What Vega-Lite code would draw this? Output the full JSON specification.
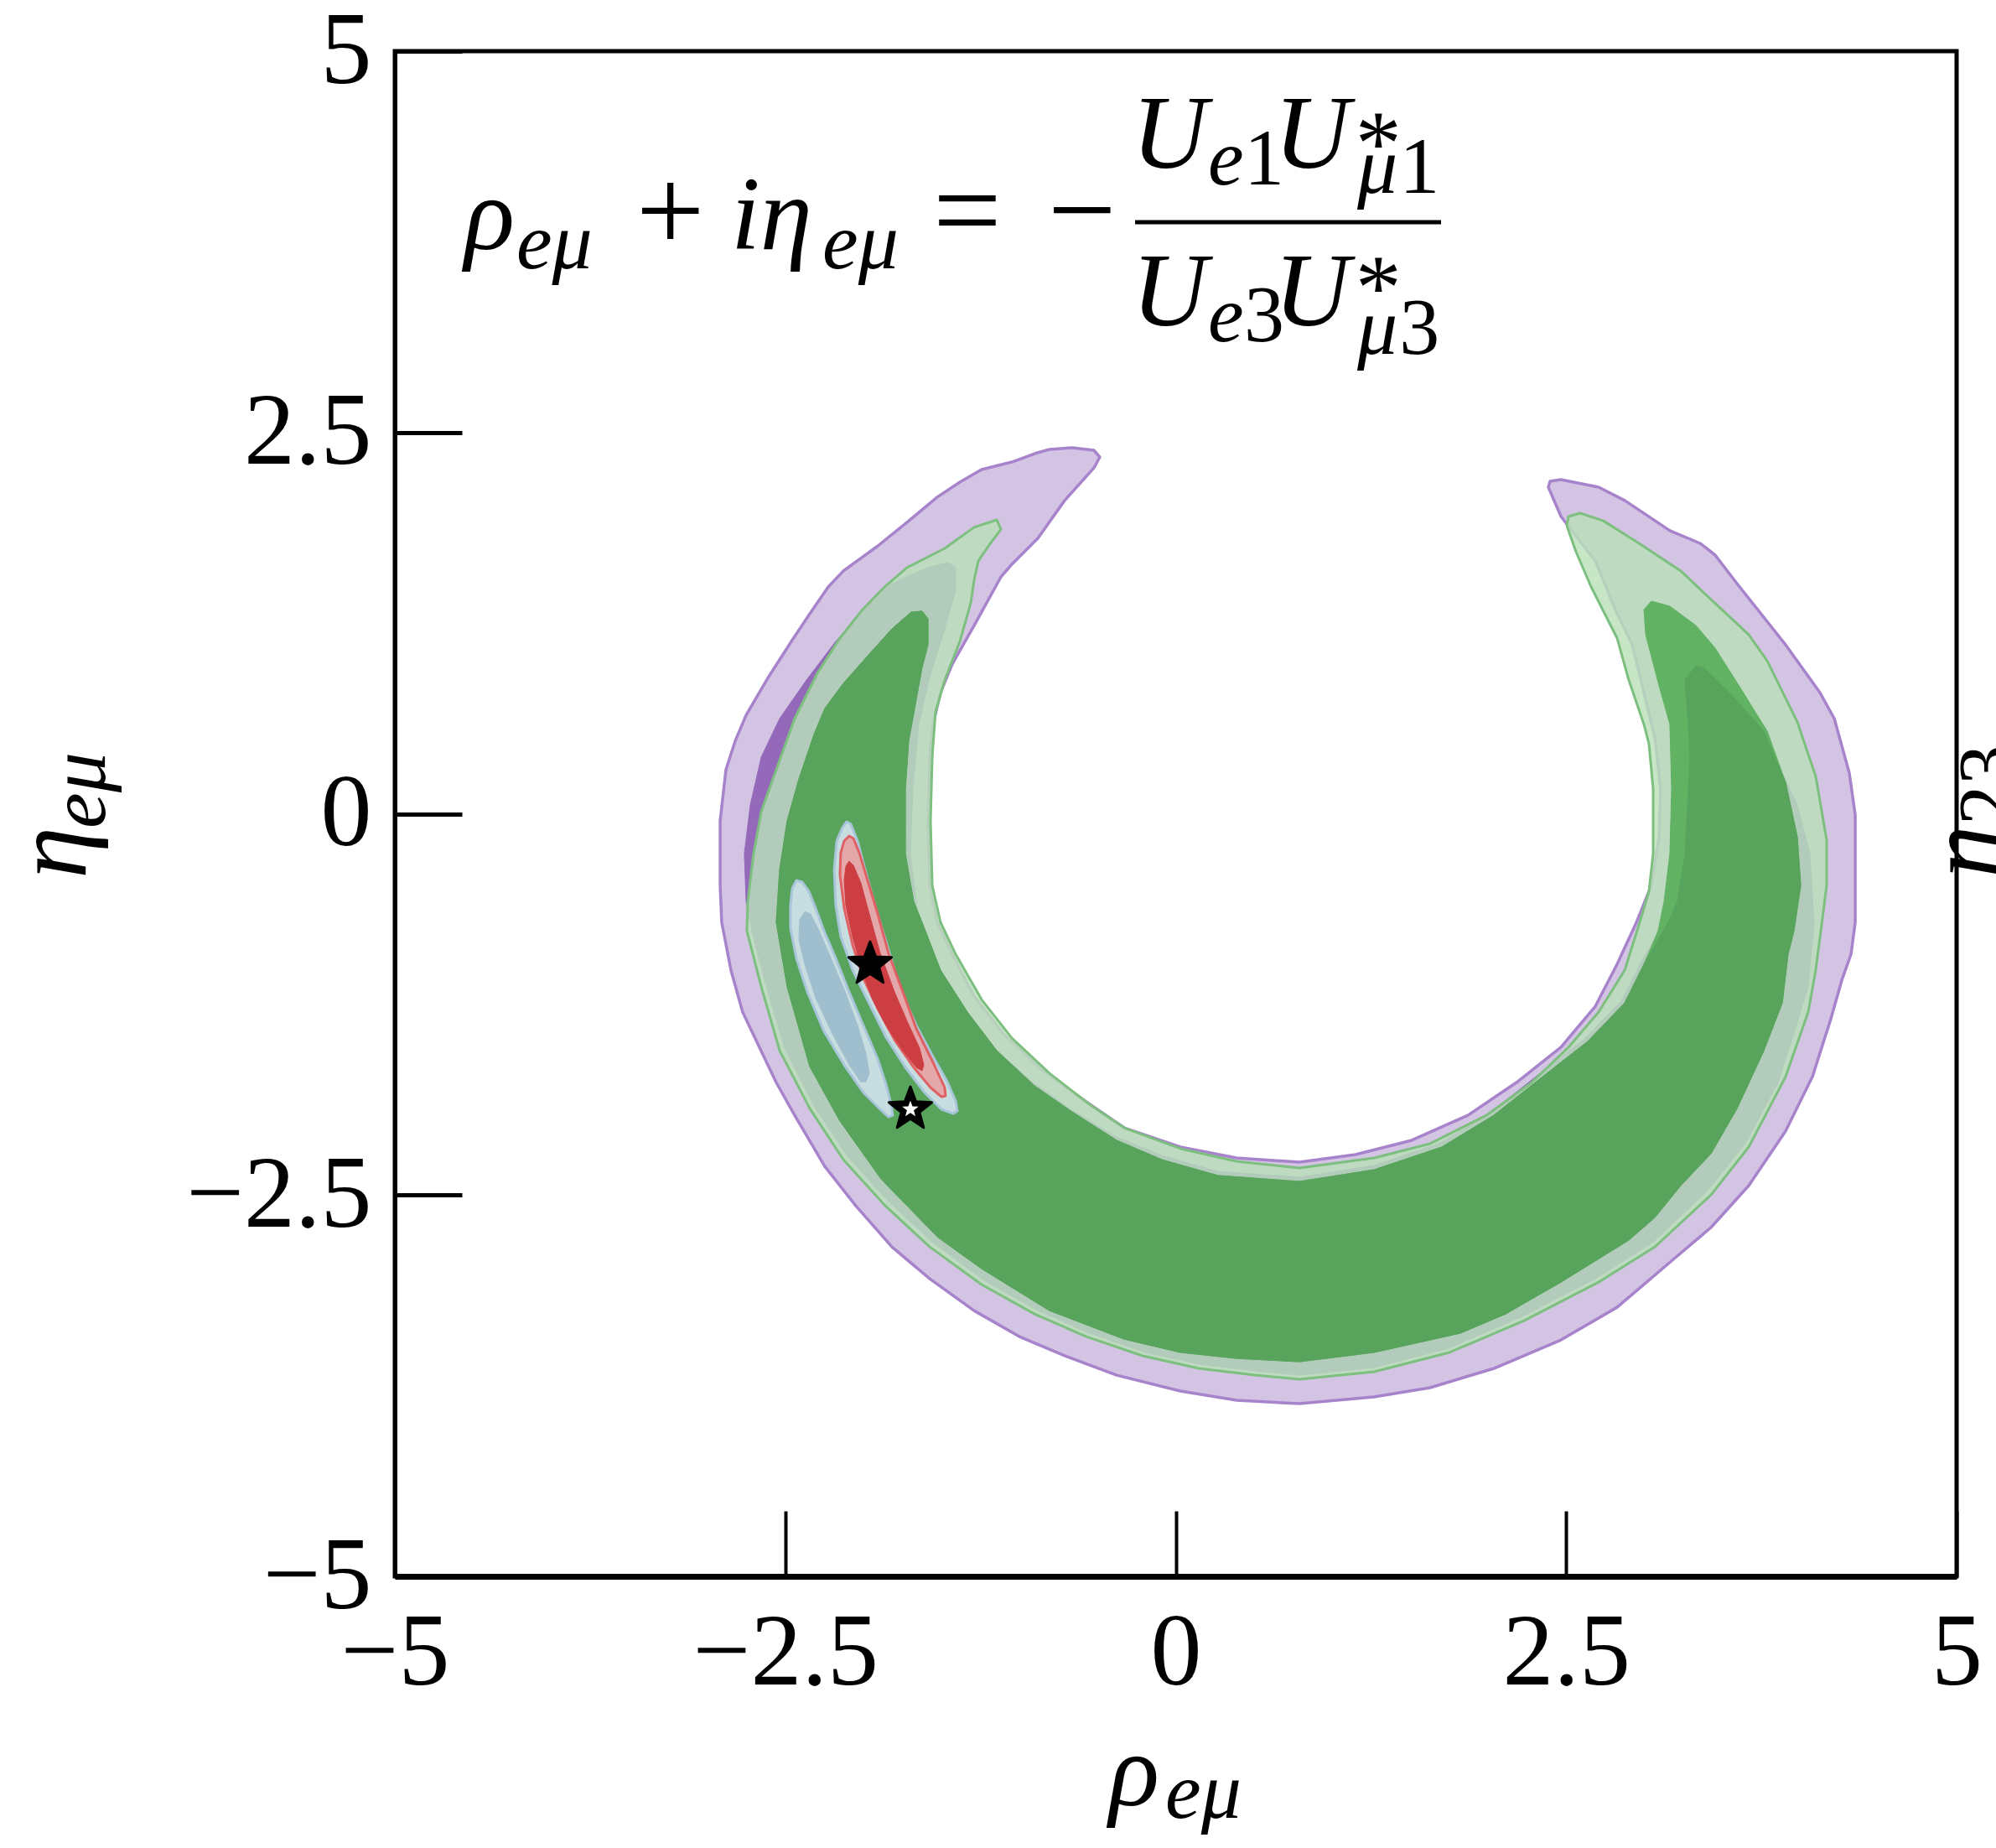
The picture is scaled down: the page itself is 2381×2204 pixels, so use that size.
{
"$schema": "https://vega.github.io/schema/vega-lite/v6.json",
"width": 1863, "height": 1819,
"autosize": "none",
"padding": {"left": 471, "top": 61, "right": 47, "bottom": 324},
"background": "white",
"config": {"view": {"stroke": "black", "strokeWidth": 5}},
"datasets": {
"P2": [{"x":-0.663,"y":2.400},{"x":-0.523,"y":2.383},{"x":-0.486,"y":2.339},{"x":-0.523,"y":2.268},{"x":-0.711,"y":2.054},{"x":-0.883,"y":1.806},{"x":-1.049,"y":1.636},{"x":-1.119,"y":1.553},{"x":-1.291,"y":1.234},{"x":-1.431,"y":0.981},{"x":-1.506,"y":0.794},{"x":-1.554,"y":0.586},{"x":-1.575,"y":0.371},{"x":-1.586,"y":-0.047},{"x":-1.575,"y":-0.470},{"x":-1.527,"y":-0.712},{"x":-1.431,"y":-0.921},{"x":-1.291,"y":-1.196},{"x":-1.098,"y":-1.449},{"x":-0.856,"y":-1.680},{"x":-0.572,"y":-1.889},{"x":-0.330,"y":-2.059},{"x":0.030,"y":-2.185},{"x":0.389,"y":-2.257},{"x":0.792,"y":-2.284},{"x":1.151,"y":-2.235},{"x":1.511,"y":-2.141},{"x":1.871,"y":-1.977},{"x":2.182,"y":-1.762},{"x":2.467,"y":-1.531},{"x":2.687,"y":-1.262},{"x":2.826,"y":-0.987},{"x":2.950,"y":-0.712},{"x":3.046,"y":-0.470},{"x":3.095,"y":-0.151},{"x":3.105,"y":0.162},{"x":3.068,"y":0.498},{"x":2.998,"y":0.794},{"x":2.923,"y":1.108},{"x":2.805,"y":1.361},{"x":2.687,"y":1.658},{"x":2.590,"y":1.784},{"x":2.467,"y":1.949},{"x":2.386,"y":2.141},{"x":2.397,"y":2.180},{"x":2.467,"y":2.191},{"x":2.708,"y":2.141},{"x":2.875,"y":2.054},{"x":3.164,"y":1.856},{"x":3.358,"y":1.773},{"x":3.454,"y":1.696},{"x":3.594,"y":1.509},{"x":3.905,"y":1.108},{"x":4.125,"y":0.794},{"x":4.217,"y":0.624},{"x":4.313,"y":0.267},{"x":4.351,"y":-0.008},{"x":4.351,"y":-0.712},{"x":4.324,"y":-0.921},{"x":4.265,"y":-1.091},{"x":4.195,"y":-1.344},{"x":4.077,"y":-1.724},{"x":3.905,"y":-2.081},{"x":3.669,"y":-2.438},{"x":3.427,"y":-2.713},{"x":3.186,"y":-2.922},{"x":2.826,"y":-3.236},{"x":2.467,"y":-3.450},{"x":2.037,"y":-3.637},{"x":1.629,"y":-3.763},{"x":1.270,"y":-3.824},{"x":0.792,"y":-3.868},{"x":0.389,"y":-3.846},{"x":0.030,"y":-3.785},{"x":-0.378,"y":-3.681},{"x":-0.711,"y":-3.554},{"x":-1.001,"y":-3.428},{"x":-1.291,"y":-3.258},{"x":-1.575,"y":-3.049},{"x":-1.817,"y":-2.840},{"x":-2.053,"y":-2.565},{"x":-2.247,"y":-2.312},{"x":-2.440,"y":-1.977},{"x":-2.558,"y":-1.762},{"x":-2.676,"y":-1.509},{"x":-2.773,"y":-1.300},{"x":-2.848,"y":-1.025},{"x":-2.907,"y":-0.712},{"x":-2.917,"y":-0.470},{"x":-2.917,"y":-0.047},{"x":-2.880,"y":0.289},{"x":-2.821,"y":0.476},{"x":-2.751,"y":0.646},{"x":-2.606,"y":0.899},{"x":-2.461,"y":1.130},{"x":-2.343,"y":1.311},{"x":-2.225,"y":1.487},{"x":-2.128,"y":1.592},{"x":-1.914,"y":1.751},{"x":-1.720,"y":1.911},{"x":-1.527,"y":2.076},{"x":-1.382,"y":2.174},{"x":-1.243,"y":2.257},{"x":-1.049,"y":2.306},{"x":-0.904,"y":2.361},{"x":-0.808,"y":2.389}],
"P1": [{"x":-1.457,"y":1.647},{"x":-1.409,"y":1.614},{"x":-1.409,"y":1.465},{"x":-1.479,"y":1.212},{"x":-1.575,"y":0.899},{"x":-1.645,"y":0.586},{"x":-1.683,"y":0.162},{"x":-1.699,"y":-0.261},{"x":-1.645,"y":-0.712},{"x":-1.527,"y":-1.014},{"x":-1.355,"y":-1.284},{"x":-1.168,"y":-1.531},{"x":-0.921,"y":-1.757},{"x":-0.679,"y":-1.933},{"x":-0.389,"y":-2.114},{"x":-0.089,"y":-2.240},{"x":0.271,"y":-2.345},{"x":0.792,"y":-2.383},{"x":1.270,"y":-2.306},{"x":1.694,"y":-2.158},{"x":2.021,"y":-1.955},{"x":2.327,"y":-1.707},{"x":2.617,"y":-1.476},{"x":2.853,"y":-1.229},{"x":2.977,"y":-0.976},{"x":3.073,"y":-0.811},{"x":3.181,"y":-0.684},{"x":3.213,"y":-0.575},{"x":3.261,"y":-0.261},{"x":3.283,"y":0.162},{"x":3.293,"y":0.371},{"x":3.283,"y":0.586},{"x":3.261,"y":0.877},{"x":3.331,"y":0.970},{"x":3.379,"y":0.959},{"x":3.545,"y":0.794},{"x":3.766,"y":0.542},{"x":3.884,"y":0.267},{"x":3.980,"y":0.058},{"x":4.061,"y":-0.261},{"x":4.088,"y":-0.712},{"x":4.050,"y":-1.135},{"x":3.969,"y":-1.405},{"x":3.857,"y":-1.762},{"x":3.647,"y":-2.163},{"x":3.406,"y":-2.471},{"x":3.052,"y":-2.812},{"x":2.697,"y":-3.043},{"x":2.220,"y":-3.296},{"x":1.747,"y":-3.505},{"x":1.270,"y":-3.631},{"x":0.792,"y":-3.681},{"x":0.507,"y":-3.653},{"x":0.148,"y":-3.609},{"x":-0.212,"y":-3.527},{"x":-0.566,"y":-3.400},{"x":-0.894,"y":-3.252},{"x":-1.227,"y":-3.060},{"x":-1.554,"y":-2.812},{"x":-1.839,"y":-2.543},{"x":-2.102,"y":-2.246},{"x":-2.316,"y":-1.916},{"x":-2.504,"y":-1.537},{"x":-2.622,"y":-1.130},{"x":-2.708,"y":-0.794},{"x":-2.751,"y":-0.575},{"x":-2.762,"y":-0.261},{"x":-2.724,"y":0.058},{"x":-2.654,"y":0.371},{"x":-2.536,"y":0.624},{"x":-2.364,"y":0.877},{"x":-2.177,"y":1.130},{"x":-2.080,"y":1.240},{"x":-1.946,"y":1.405},{"x":-1.839,"y":1.498},{"x":-1.704,"y":1.564},{"x":-1.570,"y":1.619}],
"G2": [{"x":-1.146,"y":1.927},{"x":-1.291,"y":1.878},{"x":-1.479,"y":1.740},{"x":-1.720,"y":1.614},{"x":-1.865,"y":1.487},{"x":-2.005,"y":1.339},{"x":-2.150,"y":1.152},{"x":-2.295,"y":0.921},{"x":-2.440,"y":0.624},{"x":-2.558,"y":0.289},{"x":-2.654,"y":0.014},{"x":-2.703,"y":-0.261},{"x":-2.740,"y":-0.575},{"x":-2.746,"y":-0.767},{"x":-2.654,"y":-1.135},{"x":-2.536,"y":-1.553},{"x":-2.343,"y":-1.933},{"x":-2.128,"y":-2.268},{"x":-1.865,"y":-2.565},{"x":-1.575,"y":-2.840},{"x":-1.243,"y":-3.087},{"x":-0.904,"y":-3.280},{"x":-0.572,"y":-3.428},{"x":-0.212,"y":-3.554},{"x":0.148,"y":-3.637},{"x":0.507,"y":-3.681},{"x":0.792,"y":-3.708},{"x":1.270,"y":-3.659},{"x":1.753,"y":-3.532},{"x":2.230,"y":-3.324},{"x":2.708,"y":-3.071},{"x":3.068,"y":-2.840},{"x":3.427,"y":-2.499},{"x":3.669,"y":-2.185},{"x":3.905,"y":-1.724},{"x":4.050,"y":-1.300},{"x":4.098,"y":-1.025},{"x":4.131,"y":-0.767},{"x":4.168,"y":-0.470},{"x":4.168,"y":-0.173},{"x":4.098,"y":0.245},{"x":3.980,"y":0.602},{"x":3.787,"y":1.003},{"x":3.669,"y":1.174},{"x":3.427,"y":1.405},{"x":3.234,"y":1.592},{"x":2.950,"y":1.784},{"x":2.735,"y":1.922},{"x":2.590,"y":1.971},{"x":2.515,"y":1.949},{"x":2.504,"y":1.889},{"x":2.563,"y":1.718},{"x":2.660,"y":1.487},{"x":2.826,"y":1.152},{"x":2.901,"y":0.877},{"x":2.998,"y":0.586},{"x":3.030,"y":0.459},{"x":3.057,"y":0.162},{"x":3.057,"y":-0.261},{"x":3.030,"y":-0.509},{"x":2.971,"y":-0.712},{"x":2.875,"y":-1.025},{"x":2.708,"y":-1.300},{"x":2.515,"y":-1.531},{"x":2.279,"y":-1.762},{"x":1.989,"y":-1.977},{"x":1.629,"y":-2.163},{"x":1.270,"y":-2.257},{"x":0.792,"y":-2.323},{"x":0.389,"y":-2.279},{"x":0.030,"y":-2.196},{"x":-0.330,"y":-2.059},{"x":-0.545,"y":-1.911},{"x":-0.808,"y":-1.702},{"x":-1.049,"y":-1.471},{"x":-1.243,"y":-1.218},{"x":-1.409,"y":-0.921},{"x":-1.506,"y":-0.712},{"x":-1.559,"y":-0.470},{"x":-1.570,"y":-0.047},{"x":-1.559,"y":0.371},{"x":-1.538,"y":0.668},{"x":-1.479,"y":0.877},{"x":-1.382,"y":1.130},{"x":-1.312,"y":1.383},{"x":-1.291,"y":1.531},{"x":-1.264,"y":1.658},{"x":-1.194,"y":1.762},{"x":-1.119,"y":1.866}],
"G1": [{"x":-1.624,"y":1.328},{"x":-1.694,"y":1.322},{"x":-1.817,"y":1.212},{"x":-1.962,"y":1.047},{"x":-2.128,"y":0.855},{"x":-2.247,"y":0.690},{"x":-2.316,"y":0.520},{"x":-2.413,"y":0.228},{"x":-2.488,"y":-0.047},{"x":-2.536,"y":-0.366},{"x":-2.558,"y":-0.712},{"x":-2.488,"y":-1.135},{"x":-2.343,"y":-1.658},{"x":-2.150,"y":-2.015},{"x":-1.887,"y":-2.394},{"x":-1.527,"y":-2.774},{"x":-1.243,"y":-2.983},{"x":-0.808,"y":-3.258},{"x":-0.330,"y":-3.445},{"x":0.030,"y":-3.532},{"x":0.389,"y":-3.571},{"x":0.792,"y":-3.593},{"x":1.270,"y":-3.532},{"x":1.822,"y":-3.406},{"x":2.112,"y":-3.280},{"x":2.467,"y":-3.071},{"x":2.901,"y":-2.796},{"x":3.068,"y":-2.647},{"x":3.234,"y":-2.438},{"x":3.427,"y":-2.229},{"x":3.594,"y":-1.933},{"x":3.766,"y":-1.553},{"x":3.884,"y":-1.240},{"x":3.921,"y":-0.921},{"x":3.959,"y":-0.767},{"x":4.002,"y":-0.470},{"x":3.980,"y":-0.151},{"x":3.905,"y":0.206},{"x":3.787,"y":0.542},{"x":3.621,"y":0.816},{"x":3.454,"y":1.086},{"x":3.331,"y":1.234},{"x":3.164,"y":1.361},{"x":3.046,"y":1.394},{"x":2.998,"y":1.339},{"x":3.009,"y":1.174},{"x":3.095,"y":0.838},{"x":3.164,"y":0.586},{"x":3.175,"y":0.162},{"x":3.164,"y":-0.261},{"x":3.127,"y":-0.575},{"x":3.089,"y":-0.767},{"x":2.998,"y":-0.987},{"x":2.875,"y":-1.240},{"x":2.638,"y":-1.493},{"x":2.349,"y":-1.724},{"x":2.037,"y":-1.977},{"x":1.704,"y":-2.185},{"x":1.270,"y":-2.334},{"x":0.792,"y":-2.411},{"x":0.271,"y":-2.372},{"x":-0.089,"y":-2.268},{"x":-0.378,"y":-2.141},{"x":-0.663,"y":-1.955},{"x":-0.904,"y":-1.784},{"x":-1.146,"y":-1.553},{"x":-1.334,"y":-1.300},{"x":-1.506,"y":-1.025},{"x":-1.624,"y":-0.712},{"x":-1.678,"y":-0.575},{"x":-1.731,"y":-0.261},{"x":-1.731,"y":0.162},{"x":-1.710,"y":0.476},{"x":-1.672,"y":0.690},{"x":-1.624,"y":0.959},{"x":-1.586,"y":1.108},{"x":-1.586,"y":1.278}],
"DG": [{"x":-1.624,"y":1.328},{"x":-1.694,"y":1.322},{"x":-1.817,"y":1.212},{"x":-1.962,"y":1.047},{"x":-2.128,"y":0.855},{"x":-2.247,"y":0.690},{"x":-2.316,"y":0.520},{"x":-2.413,"y":0.228},{"x":-2.488,"y":-0.047},{"x":-2.536,"y":-0.366},{"x":-2.558,"y":-0.712},{"x":-2.488,"y":-1.135},{"x":-2.343,"y":-1.658},{"x":-2.150,"y":-2.015},{"x":-1.887,"y":-2.394},{"x":-1.527,"y":-2.774},{"x":-1.243,"y":-2.983},{"x":-0.808,"y":-3.258},{"x":-0.330,"y":-3.445},{"x":0.030,"y":-3.532},{"x":0.389,"y":-3.571},{"x":0.792,"y":-3.593},{"x":1.270,"y":-3.532},{"x":1.822,"y":-3.406},{"x":2.112,"y":-3.280},{"x":2.467,"y":-3.071},{"x":2.901,"y":-2.796},{"x":3.068,"y":-2.647},{"x":3.234,"y":-2.438},{"x":3.427,"y":-2.229},{"x":3.594,"y":-1.933},{"x":3.766,"y":-1.553},{"x":3.884,"y":-1.240},{"x":3.921,"y":-0.921},{"x":3.959,"y":-0.767},{"x":4.002,"y":-0.470},{"x":3.980,"y":-0.151},{"x":3.905,"y":0.206},{"x":3.766,"y":0.542},{"x":3.545,"y":0.794},{"x":3.379,"y":0.959},{"x":3.331,"y":0.970},{"x":3.261,"y":0.877},{"x":3.283,"y":0.586},{"x":3.293,"y":0.371},{"x":3.283,"y":0.162},{"x":3.261,"y":-0.261},{"x":3.213,"y":-0.575},{"x":3.154,"y":-0.712},{"x":2.998,"y":-0.987},{"x":2.875,"y":-1.240},{"x":2.638,"y":-1.493},{"x":2.349,"y":-1.724},{"x":2.037,"y":-1.977},{"x":1.704,"y":-2.185},{"x":1.270,"y":-2.334},{"x":0.792,"y":-2.411},{"x":0.271,"y":-2.372},{"x":-0.089,"y":-2.268},{"x":-0.378,"y":-2.141},{"x":-0.663,"y":-1.955},{"x":-0.904,"y":-1.784},{"x":-1.146,"y":-1.553},{"x":-1.334,"y":-1.300},{"x":-1.506,"y":-1.025},{"x":-1.624,"y":-0.712},{"x":-1.678,"y":-0.575},{"x":-1.731,"y":-0.261},{"x":-1.731,"y":0.162},{"x":-1.710,"y":0.476},{"x":-1.672,"y":0.690},{"x":-1.624,"y":0.959},{"x":-1.586,"y":1.108},{"x":-1.586,"y":1.278}],
"B2L": [{"x":-2.429,"y":-0.437},{"x":-2.391,"y":-0.448},{"x":-2.349,"y":-0.509},{"x":-2.306,"y":-0.619},{"x":-2.252,"y":-0.767},{"x":-2.177,"y":-0.948},{"x":-2.091,"y":-1.168},{"x":-2.000,"y":-1.388},{"x":-1.908,"y":-1.608},{"x":-1.855,"y":-1.773},{"x":-1.822,"y":-1.905},{"x":-1.812,"y":-1.977},{"x":-1.839,"y":-1.988},{"x":-1.892,"y":-1.938},{"x":-2.000,"y":-1.828},{"x":-2.123,"y":-1.647},{"x":-2.252,"y":-1.427},{"x":-2.359,"y":-1.168},{"x":-2.429,"y":-0.948},{"x":-2.467,"y":-0.750},{"x":-2.467,"y":-0.602},{"x":-2.456,"y":-0.492}],
"B1L": [{"x":-2.375,"y":-0.641},{"x":-2.338,"y":-0.657},{"x":-2.284,"y":-0.767},{"x":-2.214,"y":-0.932},{"x":-2.123,"y":-1.152},{"x":-2.037,"y":-1.388},{"x":-1.983,"y":-1.575},{"x":-1.962,"y":-1.702},{"x":-1.983,"y":-1.757},{"x":-2.016,"y":-1.757},{"x":-2.091,"y":-1.647},{"x":-2.198,"y":-1.443},{"x":-2.306,"y":-1.207},{"x":-2.375,"y":-0.987},{"x":-2.413,"y":-0.822},{"x":-2.408,"y":-0.695}],
"B2R": [{"x":-2.107,"y":-0.052},{"x":-2.080,"y":-0.069},{"x":-2.037,"y":-0.179},{"x":-1.989,"y":-0.366},{"x":-1.930,"y":-0.586},{"x":-1.855,"y":-0.838},{"x":-1.769,"y":-1.135},{"x":-1.661,"y":-1.388},{"x":-1.554,"y":-1.592},{"x":-1.463,"y":-1.757},{"x":-1.409,"y":-1.883},{"x":-1.398,"y":-1.949},{"x":-1.425,"y":-1.966},{"x":-1.500,"y":-1.938},{"x":-1.608,"y":-1.828},{"x":-1.731,"y":-1.663},{"x":-1.855,"y":-1.465},{"x":-1.962,"y":-1.245},{"x":-2.069,"y":-1.025},{"x":-2.145,"y":-0.805},{"x":-2.177,"y":-0.602},{"x":-2.187,"y":-0.366},{"x":-2.171,"y":-0.179},{"x":-2.134,"y":-0.091}],
"R2": [{"x":-2.091,"y":-0.146},{"x":-2.064,"y":-0.162},{"x":-2.026,"y":-0.256},{"x":-1.973,"y":-0.437},{"x":-1.908,"y":-0.657},{"x":-1.839,"y":-0.915},{"x":-1.747,"y":-1.168},{"x":-1.661,"y":-1.410},{"x":-1.554,"y":-1.630},{"x":-1.479,"y":-1.795},{"x":-1.474,"y":-1.850},{"x":-1.500,"y":-1.856},{"x":-1.570,"y":-1.795},{"x":-1.678,"y":-1.663},{"x":-1.801,"y":-1.482},{"x":-1.908,"y":-1.278},{"x":-2.000,"y":-1.080},{"x":-2.069,"y":-0.860},{"x":-2.123,"y":-0.619},{"x":-2.150,"y":-0.399},{"x":-2.145,"y":-0.256},{"x":-2.123,"y":-0.179}],
"R1": [{"x":-2.091,"y":-0.311},{"x":-2.064,"y":-0.338},{"x":-2.016,"y":-0.454},{"x":-1.962,"y":-0.657},{"x":-1.892,"y":-0.915},{"x":-1.801,"y":-1.168},{"x":-1.715,"y":-1.372},{"x":-1.640,"y":-1.537},{"x":-1.613,"y":-1.647},{"x":-1.624,"y":-1.685},{"x":-1.661,"y":-1.663},{"x":-1.747,"y":-1.553},{"x":-1.855,"y":-1.388},{"x":-1.946,"y":-1.207},{"x":-2.016,"y":-1.003},{"x":-2.069,"y":-0.805},{"x":-2.112,"y":-0.602},{"x":-2.123,"y":-0.437},{"x":-2.112,"y":-0.344}],
"stars": [{"x":-1.957,"y":-0.987,"kind":"best"},{"x":-1.699,"y":-1.938,"kind":"true"}],
"labels": [
{"t":"ρ","x":-4.554,"y":3.703,"s":"main","it":"italic"},
{"t":"eμ","x":-4.222,"y":3.576,"s":"sub","it":"italic"},
{"t":"+","x":-3.455,"y":3.690,"s":"op","it":"normal"},
{"t":"iη","x":-2.848,"y":3.703,"s":"main","it":"italic"},
{"t":"eμ","x":-2.262,"y":3.576,"s":"sub","it":"italic"},
{"t":"=","x":-1.554,"y":3.690,"s":"op","it":"normal"},
{"t":"−","x":-0.819,"y":3.690,"s":"op","it":"normal"},
{"t":"U","x":-0.282,"y":4.236,"s":"main","it":"italic"},
{"t":"e","x":0.207,"y":4.126,"s":"sub","it":"italic"},
{"t":"1","x":0.438,"y":4.126,"s":"sub","it":"normal"},
{"t":"U","x":0.630,"y":4.236,"s":"main","it":"italic"},
{"t":"*","x":1.150,"y":4.192,"s":"star","it":"normal"},
{"t":"μ","x":1.162,"y":4.071,"s":"sub","it":"italic"},
{"t":"1","x":1.432,"y":4.071,"s":"sub","it":"normal"},
{"t":"U","x":-0.282,"y":3.202,"s":"main","it":"italic"},
{"t":"e","x":0.207,"y":3.098,"s":"sub","it":"italic"},
{"t":"3","x":0.438,"y":3.098,"s":"sub","it":"normal"},
{"t":"U","x":0.630,"y":3.202,"s":"main","it":"italic"},
{"t":"*","x":1.150,"y":3.246,"s":"star","it":"normal"},
{"t":"μ","x":1.162,"y":3.015,"s":"sub","it":"italic"},
{"t":"3","x":1.432,"y":3.015,"s":"sub","it":"normal"},
{"t":"ρ","x":-0.427,"y":-6.501,"s":"main","it":"italic"},
{"t":"eμ","x":-0.067,"y":-6.583,"s":"sub","it":"italic"}
],
"vlabels": [
{"t":"η","x":-6.981,"y":-0.426,"s":"main","it":"italic"},
{"t":"eμ","x":-6.857,"y":-0.096,"s":"sub","it":"italic"},
{"t":"η","x":5.268,"y":-0.420,"s":"main","it":"italic"},
{"t":"23","x":5.365,"y":-0.075,"s":"sub","it":"normal"}
]
},
"layer": [
{"data": {"name": "P2"}, "mark": {"type": "line", "interpolate": "linear-closed", "fill": "#d4c4e4", "stroke": "#a783cc", "strokeWidth": 3.5, "strokeJoin": "round"},
 "encoding": {
  "x": {"field": "x", "type": "quantitative", "scale": {"domain": [-5, 5], "nice": false, "zero": false},
   "axis": {"values": [-5, -2.5, 0, 2.5, 5], "title": null, "grid": false, "tickSize": -78, "tickWidth": 4, "tickColor": "black", "domainColor": "black", "domainWidth": 7, "labelFont": "Liberation Serif", "labelFontSize": 122, "labelColor": "black", "labelPadding": 110, "labelLimit": 0, "labelFlush": false, "labelOverlap": false, "labelBound": false, "labelExpr": "replace(format(datum.value, '.1~f'), '-', '−')"}},
  "y": {"field": "y", "type": "quantitative", "scale": {"domain": [-5, 5], "nice": false, "zero": false},
   "axis": {"values": [-5, -2.5, 0, 2.5, 5], "title": null, "grid": false, "tickSize": -80, "tickWidth": 5, "tickColor": "black", "domainColor": "black", "domainWidth": 5, "labelFont": "Liberation Serif", "labelFontSize": 122, "labelColor": "black", "labelPadding": 108, "labelLimit": 0, "labelFlush": false, "labelOverlap": false, "labelBound": false, "labelExpr": "replace(format(datum.value, '.1~f'), '-', '−')"}},
  "order": {"value": null}}},
{"data": {"name": "P1"}, "mark": {"type": "line", "interpolate": "linear-closed", "fill": "#9569ba", "stroke": "#9569ba", "strokeWidth": 1}, "encoding": {"x": {"field": "x", "type": "quantitative"}, "y": {"field": "y", "type": "quantitative"}, "order": {"value": null}}},
{"data": {"name": "G2"}, "mark": {"type": "line", "interpolate": "linear-closed", "fill": "#b9e1b9", "fillOpacity": 0.82, "stroke": "#7cbf7e", "strokeWidth": 3, "strokeJoin": "round"}, "encoding": {"x": {"field": "x", "type": "quantitative"}, "y": {"field": "y", "type": "quantitative"}, "order": {"value": null}}},
{"data": {"name": "G1"}, "mark": {"type": "line", "interpolate": "linear-closed", "fill": "#62b264", "stroke": "#62b264", "strokeWidth": 1}, "encoding": {"x": {"field": "x", "type": "quantitative"}, "y": {"field": "y", "type": "quantitative"}, "order": {"value": null}}},
{"data": {"name": "DG"}, "mark": {"type": "line", "interpolate": "linear-closed", "fill": "#59a45c", "stroke": "#59a45c", "strokeWidth": 1}, "encoding": {"x": {"field": "x", "type": "quantitative"}, "y": {"field": "y", "type": "quantitative"}, "order": {"value": null}}},
{"data": {"name": "B2L"}, "mark": {"type": "line", "interpolate": "linear-closed", "fill": "#c8dde0", "stroke": "#a8c5da", "strokeWidth": 3, "strokeJoin": "round"}, "encoding": {"x": {"field": "x", "type": "quantitative"}, "y": {"field": "y", "type": "quantitative"}, "order": {"value": null}}},
{"data": {"name": "B2R"}, "mark": {"type": "line", "interpolate": "linear-closed", "fill": "#c8dde0", "stroke": "#a8c5da", "strokeWidth": 3, "strokeJoin": "round"}, "encoding": {"x": {"field": "x", "type": "quantitative"}, "y": {"field": "y", "type": "quantitative"}, "order": {"value": null}}},
{"data": {"name": "B1L"}, "mark": {"type": "line", "interpolate": "linear-closed", "fill": "#9fbfcf", "stroke": "#9fbfcf", "strokeWidth": 1}, "encoding": {"x": {"field": "x", "type": "quantitative"}, "y": {"field": "y", "type": "quantitative"}, "order": {"value": null}}},
{"data": {"name": "R2"}, "mark": {"type": "line", "interpolate": "linear-closed", "fill": "#e5a8aa", "stroke": "#df6163", "strokeWidth": 3, "strokeJoin": "round"}, "encoding": {"x": {"field": "x", "type": "quantitative"}, "y": {"field": "y", "type": "quantitative"}, "order": {"value": null}}},
{"data": {"name": "R1"}, "mark": {"type": "line", "interpolate": "linear-closed", "fill": "#cd3e43", "stroke": "#cd3e43", "strokeWidth": 1}, "encoding": {"x": {"field": "x", "type": "quantitative"}, "y": {"field": "y", "type": "quantitative"}, "order": {"value": null}}},
{"data": {"name": "stars"}, "mark": {"type": "point", "shape": "M0,-1L0.2469,-0.3398L0.9511,-0.309L0.3995,0.1298L0.5878,0.809L0,0.42L-0.5878,0.809L-0.3995,0.1298L-0.9511,-0.309L-0.2469,-0.3398Z", "filled": true, "color": "black", "stroke": "black", "strokeWidth": 3, "strokeJoin": "round", "size": 2900, "opacity": 1}, "encoding": {"x": {"field": "x", "type": "quantitative"}, "y": {"field": "y", "type": "quantitative"}}},
{"data": {"name": "stars"}, "transform": [{"filter": "datum.kind == 'true'"}], "mark": {"type": "point", "shape": "M0,-1L0.2469,-0.3398L0.9511,-0.309L0.3995,0.1298L0.5878,0.809L0,0.42L-0.5878,0.809L-0.3995,0.1298L-0.9511,-0.309L-0.2469,-0.3398Z", "filled": true, "color": "white", "size": 420, "opacity": 1}, "encoding": {"x": {"field": "x", "type": "quantitative"}, "y": {"field": "y", "type": "quantitative"}}},
{"data": {"values": [{"x": -0.26, "x2": 1.699, "y": 3.879}]}, "mark": {"type": "rule", "color": "black", "strokeWidth": 5}, "encoding": {"x": {"field": "x", "type": "quantitative"}, "x2": {"field": "x2"}, "y": {"field": "y", "type": "quantitative"}}},
{"data": {"name": "labels"}, "transform": [{"filter": "datum.it == 'italic' && datum.s == 'main'"}], "mark": {"type": "text", "font": "Liberation Serif", "fontStyle": "italic", "fontSize": 125, "align": "left", "baseline": "alphabetic", "color": "black"},
 "encoding": {"x": {"field": "x", "type": "quantitative"}, "y": {"field": "y", "type": "quantitative"}, "text": {"field": "t"}}},
{"data": {"name": "labels"}, "transform": [{"filter": "datum.it == 'italic' && datum.s == 'sub'"}], "mark": {"type": "text", "font": "Liberation Serif", "fontStyle": "italic", "fontSize": 96, "align": "left", "baseline": "alphabetic", "color": "black"},
 "encoding": {"x": {"field": "x", "type": "quantitative"}, "y": {"field": "y", "type": "quantitative"}, "text": {"field": "t"}}},
{"data": {"name": "labels"}, "transform": [{"filter": "datum.it == 'normal' && datum.s == 'sub'"}], "mark": {"type": "text", "font": "Liberation Serif", "fontStyle": "normal", "fontSize": 96, "align": "left", "baseline": "alphabetic", "color": "black"},
 "encoding": {"x": {"field": "x", "type": "quantitative"}, "y": {"field": "y", "type": "quantitative"}, "text": {"field": "t"}}},
{"data": {"name": "labels"}, "transform": [{"filter": "datum.s == 'op'"}], "mark": {"type": "text", "font": "Liberation Serif", "fontStyle": "normal", "fontSize": 145, "align": "left", "baseline": "alphabetic", "color": "black"},
 "encoding": {"x": {"field": "x", "type": "quantitative"}, "y": {"field": "y", "type": "quantitative"}, "text": {"field": "t"}}},
{"data": {"name": "labels"}, "transform": [{"filter": "datum.s == 'star'"}], "mark": {"type": "text", "font": "Liberation Serif", "fontStyle": "normal", "fontSize": 110, "align": "left", "baseline": "alphabetic", "color": "black"},
 "encoding": {"x": {"field": "x", "type": "quantitative"}, "y": {"field": "y", "type": "quantitative"}, "text": {"field": "t"}}},
{"data": {"name": "vlabels"}, "transform": [{"filter": "datum.s == 'main'"}], "mark": {"type": "text", "angle": 270, "font": "Liberation Serif", "fontStyle": "italic", "fontSize": 125, "align": "left", "baseline": "alphabetic", "color": "black"},
 "encoding": {"x": {"field": "x", "type": "quantitative"}, "y": {"field": "y", "type": "quantitative"}, "text": {"field": "t"}}},
{"data": {"name": "vlabels"}, "transform": [{"filter": "datum.s == 'sub' && datum.it == 'italic'"}], "mark": {"type": "text", "angle": 270, "font": "Liberation Serif", "fontStyle": "italic", "fontSize": 96, "align": "left", "baseline": "alphabetic", "color": "black"},
 "encoding": {"x": {"field": "x", "type": "quantitative"}, "y": {"field": "y", "type": "quantitative"}, "text": {"field": "t"}}},
{"data": {"name": "vlabels"}, "transform": [{"filter": "datum.s == 'sub' && datum.it == 'normal'"}], "mark": {"type": "text", "angle": 270, "font": "Liberation Serif", "fontStyle": "normal", "fontSize": 96, "align": "left", "baseline": "alphabetic", "color": "black"},
 "encoding": {"x": {"field": "x", "type": "quantitative"}, "y": {"field": "y", "type": "quantitative"}, "text": {"field": "t"}}}
]
}
